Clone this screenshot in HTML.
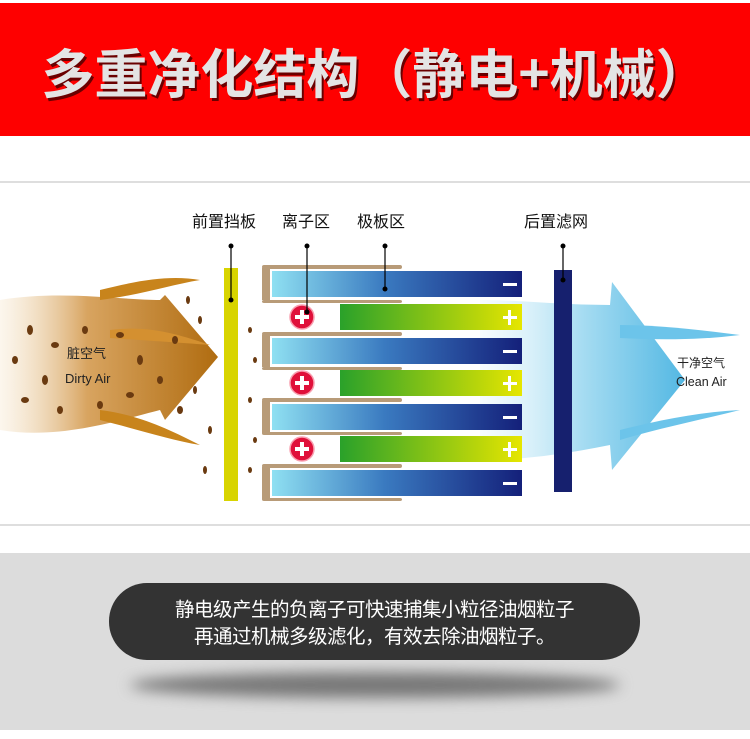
<!DOCTYPE html>
<html><head><meta charset="utf-8"><style>
html,body{margin:0;padding:0;background:#fff;}
body{width:750px;height:739px;position:relative;overflow:hidden;font-family:"Liberation Sans","Noto Sans CJK SC",sans-serif;}
.red{position:absolute;left:0;top:3px;width:750px;height:133px;background:#fe0000;}
.title{position:absolute;left:0;top:36px;width:750px;text-align:center;font-size:53px;font-weight:bold;color:#e4e4e4;letter-spacing:0px;text-shadow:2px 3px 0 #6a0000;font-family:"Noto Sans CJK SC","WenQuanYi Zen Hei",sans-serif;line-height:70px;}
.gray{position:absolute;left:0;top:553px;width:750px;height:177px;background:#dcdcdc;}
.pill{position:absolute;left:109px;top:583px;width:531px;height:77px;border-radius:38px;background:#333;color:#fff;text-align:center;font-size:19.5px;line-height:27px;padding-top:11px;box-sizing:border-box;font-family:"Noto Sans CJK SC",sans-serif;letter-spacing:-0.5px;}
.shadow{position:absolute;left:130px;top:672px;width:490px;height:26px;border-radius:50%;background:#777;filter:blur(7px);}
</style></head><body>
<div class="red"></div>
<div class="title">多重净化结构（静电+机械）</div>
<svg style="position:absolute;left:0;top:0" width="750" height="739">
<defs>
<linearGradient id="neg" x1="0" x2="1"><stop offset="0" stop-color="#8fe0f2"/><stop offset="0.45" stop-color="#3a7ac0"/><stop offset="1" stop-color="#14207a"/></linearGradient>
<linearGradient id="pos" x1="0" x2="1"><stop offset="0" stop-color="#2aa12a"/><stop offset="1" stop-color="#e6e600"/></linearGradient>
<linearGradient id="dirty" x1="0" x2="1"><stop offset="0" stop-color="#f4e2c4" stop-opacity="0.3"/><stop offset="0.4" stop-color="#d8a460"/><stop offset="1" stop-color="#b06c10"/></linearGradient>
<linearGradient id="clean" x1="0" x2="1"><stop offset="0" stop-color="#e6f6fc" stop-opacity="0.4"/><stop offset="0.5" stop-color="#9cd8f0"/><stop offset="1" stop-color="#40b0e0"/></linearGradient>
</defs>
<rect x="0" y="181" width="750" height="2" fill="#dedede"/>
<rect x="0" y="524" width="750" height="2" fill="#dedede"/>
<path d="M0,300 C60,290 120,300 160,300 L165,295 L218,357 L165,420 L160,410 C120,420 60,440 0,430 Z" fill="url(#dirty)"/>
<path d="M100,290 C140,280 170,275 200,280 C170,285 140,295 100,300Z" fill="#c8841c"/>
<path d="M100,410 C140,415 170,430 200,445 C170,440 140,430 100,420Z" fill="#c8841c"/>
<path d="M110,330 C150,325 180,335 210,345 C170,342 140,340 110,338Z" fill="#d49030"/>
<g fill="#6a3a10">
<ellipse cx="30" cy="330" rx="3" ry="5"/><ellipse cx="55" cy="345" rx="4" ry="3"/><ellipse cx="45" cy="380" rx="3" ry="5"/><ellipse cx="25" cy="400" rx="4" ry="3"/><ellipse cx="60" cy="410" rx="3" ry="4"/><ellipse cx="85" cy="330" rx="3" ry="4"/><ellipse cx="120" cy="335" rx="4" ry="3"/><ellipse cx="140" cy="360" rx="3" ry="5"/><ellipse cx="130" cy="395" rx="4" ry="3"/><ellipse cx="160" cy="380" rx="3" ry="4"/><ellipse cx="100" cy="405" rx="3" ry="4"/><ellipse cx="175" cy="340" rx="3" ry="4"/><ellipse cx="180" cy="410" rx="3" ry="4"/><ellipse cx="15" cy="360" rx="3" ry="4"/>
<ellipse cx="188" cy="300" rx="2" ry="4"/><ellipse cx="200" cy="320" rx="2" ry="4"/><ellipse cx="195" cy="390" rx="2" ry="4"/><ellipse cx="210" cy="430" rx="2" ry="4"/><ellipse cx="205" cy="470" rx="2" ry="4"/><ellipse cx="250" cy="330" rx="2" ry="3"/><ellipse cx="255" cy="360" rx="2" ry="3"/><ellipse cx="250" cy="400" rx="2" ry="3"/><ellipse cx="255" cy="440" rx="2" ry="3"/><ellipse cx="250" cy="470" rx="2" ry="3"/>
</g>
<text x="67" y="358" font-size="13" fill="#222">脏空气</text>
<text x="65" y="383" font-size="13" fill="#222">Dirty Air</text>
<path d="M480,300 C520,300 560,305 610,305 L612,282 L685,380 L612,470 L610,445 C560,455 520,460 480,460 Z" fill="url(#clean)" opacity="0.9"/>
<path d="M620,325 C660,325 700,330 740,335 C700,340 660,340 620,338Z" fill="#6cc4ea"/>
<path d="M620,430 C660,420 700,412 740,410 C700,420 660,428 620,440Z" fill="#6cc4ea"/>
<text x="677" y="367" font-size="12" fill="#222">干净空气</text>
<text x="676" y="386" font-size="12.5" fill="#222">Clean Air</text>
<rect x="224" y="268" width="14" height="233" fill="#d8d400"/>
<g fill="#8a5a20" opacity="0.6">
<rect x="262" y="265" width="140" height="4" rx="2"/><rect x="262" y="300" width="140" height="3" rx="2"/>
<rect x="262" y="332" width="140" height="4" rx="2"/><rect x="262" y="367" width="140" height="3" rx="2"/>
<rect x="262" y="398" width="140" height="4" rx="2"/><rect x="262" y="432" width="140" height="3" rx="2"/>
<rect x="262" y="464" width="140" height="4" rx="2"/><rect x="262" y="498" width="140" height="3" rx="2"/>
<rect x="262" y="268" width="8" height="32"/><rect x="262" y="335" width="8" height="32"/><rect x="262" y="401" width="8" height="32"/><rect x="262" y="467" width="8" height="32"/>
</g>
<rect x="272" y="271" width="250" height="26" fill="url(#neg)"/>
<rect x="272" y="338" width="250" height="26" fill="url(#neg)"/>
<rect x="272" y="404" width="250" height="26" fill="url(#neg)"/>
<rect x="272" y="470" width="250" height="26" fill="url(#neg)"/>
<rect x="340" y="304" width="182" height="26" fill="url(#pos)"/>
<rect x="340" y="370" width="182" height="26" fill="url(#pos)"/>
<rect x="340" y="436" width="182" height="26" fill="url(#pos)"/>
<g fill="#fff"><rect x="503" y="283" width="14" height="3"/><rect x="503" y="350" width="14" height="3"/><rect x="503" y="416" width="14" height="3"/><rect x="503" y="482" width="14" height="3"/>
<rect x="503" y="316" width="14" height="3"/><rect x="508" y="310" width="3" height="15"/>
<rect x="503" y="382" width="14" height="3"/><rect x="508" y="376" width="3" height="15"/>
<rect x="503" y="448" width="14" height="3"/><rect x="508" y="442" width="3" height="15"/></g>
<g><circle cx="302" cy="317" r="12" fill="#e0103a" stroke="#f8a0b0" stroke-width="1.5"/><circle cx="302" cy="383" r="12" fill="#e0103a" stroke="#f8a0b0" stroke-width="1.5"/><circle cx="302" cy="449" r="12" fill="#e0103a" stroke="#f8a0b0" stroke-width="1.5"/></g>
<g fill="#fff"><rect x="295" y="315" width="14" height="4"/><rect x="300" y="310" width="4" height="14"/><rect x="295" y="381" width="14" height="4"/><rect x="300" y="376" width="4" height="14"/><rect x="295" y="447" width="14" height="4"/><rect x="300" y="442" width="4" height="14"/></g>
<rect x="554" y="270" width="18" height="222" fill="#16206e"/>
<g stroke="#000" stroke-width="1.2"><line x1="231" y1="246" x2="231" y2="300"/><line x1="307" y1="246" x2="307" y2="312"/><line x1="385" y1="246" x2="385" y2="289"/><line x1="563" y1="246" x2="563" y2="280"/></g>
<g fill="#000"><circle cx="231" cy="246" r="2.5"/><circle cx="231" cy="300" r="2.5"/><circle cx="307" cy="246" r="2.5"/><circle cx="307" cy="312" r="2.5"/><circle cx="385" cy="246" r="2.5"/><circle cx="385" cy="289" r="2.5"/><circle cx="563" cy="246" r="2.5"/><circle cx="563" cy="280" r="2.5"/></g>
<g font-size="16" fill="#111" font-family="Noto Sans CJK SC,sans-serif"><text x="192" y="227">前置挡板</text><text x="282" y="227">离子区</text><text x="357" y="227">极板区</text><text x="524" y="227">后置滤网</text></g>
</svg>
<div class="gray"></div>
<div class="shadow"></div>
<div class="pill">静电级产生的负离子可快速捕集小粒径油烟粒子<br>再通过机械多级滤化，有效去除油烟粒子。</div>
</body></html>
